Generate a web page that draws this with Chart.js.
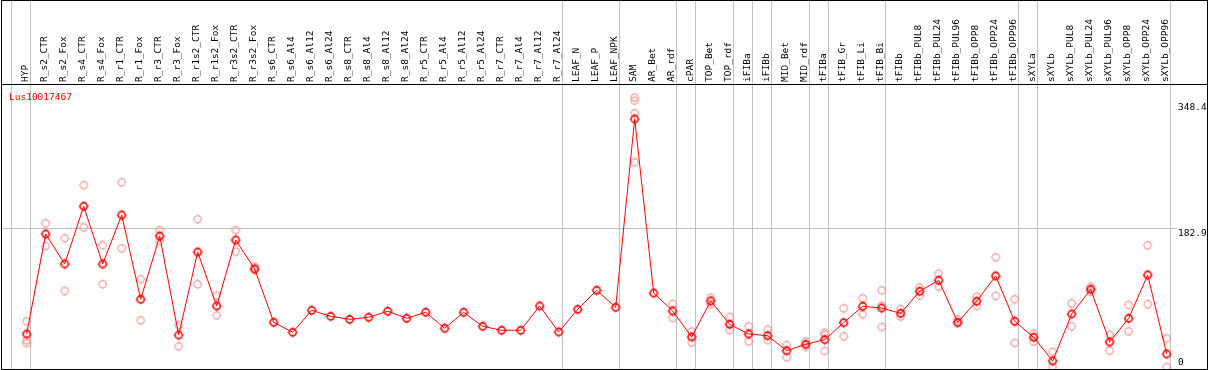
<!DOCTYPE html>
<html>
<head>
<meta charset="utf-8">
<script src="https://cdn.jsdelivr.net/npm/chart.js@4/dist/chart.umd.min.js"></script>
<style>
  html, body { margin: 0; padding: 0; background: #fff; }
  canvas { display: block; }
</style>
</head>
<body>
<canvas id="expr" width="1209" height="370"></canvas>
<script>
// gene shown in the plot
const geneId = 'Lus10017467';

const categories = [
    'HYP', 'R_s2_CTR', 'R_s2_Fox', 'R_s4_CTR', 'R_s4_Fox', 'R_r1_CTR', 'R_r1_Fox', 'R_r3_CTR', 'R_r3_Fox',
    'R_r1s2_CTR', 'R_r1s2_Fox', 'R_r3s2_CTR', 'R_r3s2_Fox',
    'R_s6_CTR', 'R_s6_Al4', 'R_s6_Al12', 'R_s6_Al24', 'R_s8_CTR', 'R_s8_Al4', 'R_s8_Al12', 'R_s8_Al24',
    'R_r5_CTR', 'R_r5_Al4', 'R_r5_Al12', 'R_r5_Al24', 'R_r7_CTR', 'R_r7_Al4', 'R_r7_Al12', 'R_r7_Al24',
    'LEAF_N', 'LEAF_P', 'LEAF_NPK', 'SAM', 'AR_Bet', 'AR_rdf', 'cPAR', 'TOP_Bet', 'TOP_rdf',
    'iFIBa', 'iFIBb', 'MID_Bet', 'MID_rdf', 'tFIBa', 'tFIB_Gr', 'tFIB_Li', 'tFIB_Bi',
    'tFIBb', 'tFIBb_PUL8', 'tFIBb_PUL24', 'tFIBb_PUL96', 'tFIBb_OPP8', 'tFIBb_OPP24', 'tFIBb_OPP96',
    'sXYLa', 'sXYLb', 'sXYLb_PUL8', 'sXYLb_PUL24', 'sXYLb_PUL96', 'sXYLb_OPP8', 'sXYLb_OPP24', 'sXYLb_OPP96'
];

// mean expression per sample
const means = [
    43.5, 175.5, 135.9, 212.0, 135.9, 200.5, 89.3, 172.8, 42.2,
    151.7, 80.5, 167.5, 129.3,
    59.0, 45.8, 74.8, 66.9, 62.9, 65.6, 73.5, 64.2,
    72.2, 51.1, 72.2, 53.7, 48.4, 48.4, 80.5, 46.2,
    76.1, 101.2, 78.8, 327.2, 97.6, 73.9, 39.6, 87.1, 56.3,
    43.5, 41.3, 21.5, 29.9, 36.0, 58.4, 80.1, 77.8,
    70.8, 99.9, 114.4, 59.0, 86.7, 120.1, 60.3,
    39.2, 7.9, 69.9, 102.5, 33.0, 64.2, 121.4, 17.2
];

// individual replicates (empty where they sit under the mean)
const replicates = [
    [60.3, 35.2, 31.7], [189.6, 159.6], [169.8, 100.3], [240.1, 184.3], [160.6, 109.1],
    [243.7, 156.6], [115.7, 61.6], [180.7, 166.2], [55.4, 27.3],
    [194.9, 109.1], [94.1, 68.2], [180.7, 152.1], [132.3, 128.0],
    [], [], [], [], [], [], [], [],
    [], [], [], [], [], [], [], [],
    [], [], [], [355.5, 351.3, 334.7, 270.1], [], [83.1, 64.6], [46.6, 32.6], [91.4, 82.7], [66.0, 48.8],
    [53.7, 33.9], [49.2, 35.6], [29.0, 12.8], [33.4, 26.8], [45.3, 42.6, 21.1], [77.4, 40.5], [90.6, 69.5], [101.2, 80.9, 52.8],
    [76.5, 66.4], [105.1, 94.1], [123.1, 105.9], [62.9, 57.7], [92.7, 80.5], [144.7, 93.7], [89.3, 31.7],
    [43.9, 33.4], [19.8, 0], [84.0, 53.7], [105.9, 99.3], [42.6, 21.5], [81.8, 47.1], [160.6, 82.7], [37.9, 0]
];

// right axis tick labels
const yTicks = [0, 182.9, 348.4];

// last sample index of each tissue group (separator drawn after it)
const groupEnds = [-1, 0, 28, 31, 34, 35, 37, 38, 39, 41, 42, 45, 52, 53, 60];

const monoFont = { family: 'DejaVu Sans Mono', size: 9.5, lineHeight: 1 };

function makeMarker(color, width, r) {
    const c = document.createElement('canvas');
    c.width = 13;
    c.height = 13;
    const g = c.getContext('2d');
    g.strokeStyle = color;
    g.lineWidth = width;
    g.beginPath();
    g.arc(6.5, 6.5, r, 0, Math.PI * 2);
    g.stroke();
    // tiny ticks on the four sides
    const a = r + width / 2;
    g.lineWidth = 1;
    g.globalAlpha = 0.7;
    g.beginPath();
    g.moveTo(6.5, 6.5 - a); g.lineTo(6.5, 6.5 - a - 0.8);
    g.moveTo(6.5, 6.5 + a); g.lineTo(6.5, 6.5 + a + 0.8);
    g.moveTo(6.5 - a, 6.5); g.lineTo(6.5 - a - 0.8, 6.5);
    g.moveTo(6.5 + a, 6.5); g.lineTo(6.5 + a + 0.8, 6.5);
    g.stroke();
    return c;
}

const meanPoints = means.map((v, i) => ({ x: i, y: v }));
const repPoints = [];
replicates.forEach((reps, i) => reps.forEach(v => repPoints.push({ x: i, y: v })));

const framePlugin = {
    id: 'frame',
    beforeDraw(chart) {
        const ctx = chart.ctx;
        ctx.save();
        ctx.fillStyle = '#ffffff';
        ctx.fillRect(0, 0, chart.width, chart.height);
        ctx.restore();
    },
    beforeDatasetsDraw(chart) {
        const ctx = chart.ctx;
        const x = chart.scales.x;
        ctx.save();
        ctx.strokeStyle = '#c0c0c0';
        ctx.lineWidth = 1;
        ctx.beginPath();
        groupEnds.forEach(b => {
            const px = Math.round(x.getPixelForValue(b + 0.2)) - 0.5;
            ctx.moveTo(px, 1);
            ctx.lineTo(px, chart.chartArea.bottom);
        });
        ctx.stroke();
        ctx.restore();
    },
    afterDraw(chart) {
        const ctx = chart.ctx;
        const area = chart.chartArea;
        ctx.save();
        ctx.strokeStyle = '#000000';
        ctx.lineWidth = 1;
        ctx.strokeRect(1.5, 0.5, 1206, 369);
        ctx.beginPath();
        ctx.moveTo(1, area.top + 0.5);
        ctx.lineTo(1208, area.top + 0.5);
        ctx.stroke();
        ctx.fillStyle = '#ff0000';
        ctx.font = '9.5px "DejaVu Sans Mono"';
        ctx.textBaseline = 'middle';
        ctx.fillText(geneId, 9, area.top + 13.5);
        ctx.restore();
    }
};

new Chart(document.getElementById('expr'), {
    type: 'line',
    data: {
        datasets: [{
            label: 'mean',
            data: meanPoints,
            borderColor: '#ff0000',
            borderWidth: 1,
            tension: 0,
            pointStyle: makeMarker('#ff0000', 1.6, 3.6),
            pointRadius: 4
        }, {
            label: 'replicates',
            data: repPoints,
            showLine: false,
            pointStyle: makeMarker('#ee9494', 1.1, 3.6),
            pointRadius: 4
        }]
    },
    options: {
        responsive: false,
        animation: false,
        devicePixelRatio: 1,
        layout: { autoPadding: false, padding: { left: 2, right: 2, top: 1, bottom: 1 } },
        plugins: {
            legend: { display: false },
            tooltip: { enabled: false }
        },
        scales: {
            x: {
                type: 'linear',
                position: 'top',
                min: -1.3,
                max: 60.542,
                afterBuildTicks: s => { s.ticks = categories.map((c, i) => ({ value: i })); },
                afterFit: s => { s.height = 83; s.paddingLeft = 0; s.paddingRight = 0; },
                ticks: {
                    callback: v => categories[v],
                    autoSkip: false,
                    minRotation: 90,
                    maxRotation: 90,
                    padding: 2,
                    labelOffset: 8,
                    color: '#000000',
                    font: monoFont
                },
                grid: { display: false, drawTicks: false },
                border: { display: false }
            },
            y: {
                position: 'right',
                min: -2.64,
                max: 373.35,
                afterBuildTicks: s => { s.ticks = yTicks.map(v => ({ value: v })); },
                afterFit: s => { s.width = 30; s.paddingTop = 0; s.paddingBottom = 0; },
                ticks: {
                    callback: v => v === 0 ? ['0', ''] : ['', String(v)],
                    padding: 1,
                    color: '#000000',
                    font: monoFont
                },
                grid: {
                    drawTicks: false,
                    color: c => c.tick && c.tick.value === 182.9 ? '#c0c0c0' : 'rgba(0,0,0,0)'
                },
                border: { display: false }
            }
        }
    },
    plugins: [framePlugin]
});
</script>
</body>
</html>
